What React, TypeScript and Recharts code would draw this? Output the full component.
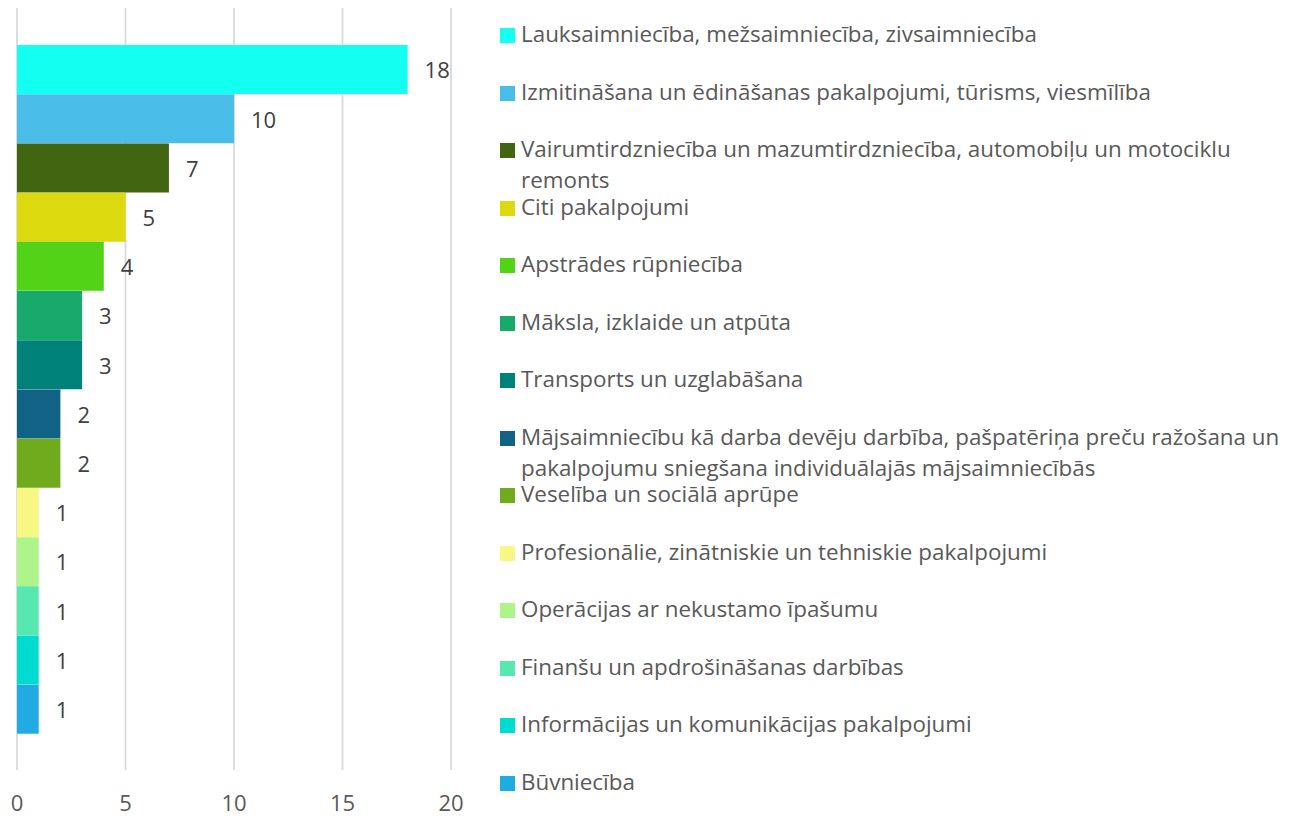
import { BarChart, Bar, XAxis, YAxis, CartesianGrid, Cell, LabelList } from 'recharts';

const categories = [
  'Lauksaimniecība, mežsaimniecība, zivsaimniecība',
  'Izmitināšana un ēdināšanas pakalpojumi, tūrisms, viesmīlība',
  'Vairumtirdzniecība un mazumtirdzniecība, automobiļu un motociklu remonts',
  'Citi pakalpojumi',
  'Apstrādes rūpniecība',
  'Māksla, izklaide un atpūta',
  'Transports un uzglabāšana',
  'Mājsaimniecību kā darba devēju darbība, pašpatēriņa preču ražošana un pakalpojumu sniegšana individuālajās mājsaimniecībās',
  'Veselība un sociālā aprūpe',
  'Profesionālie, zinātniskie un tehniskie pakalpojumi',
  'Operācijas ar nekustamo īpašumu',
  'Finanšu un apdrošināšanas darbības',
  'Informācijas un komunikācijas pakalpojumi',
  'Būvniecība',
];

const counts = [18, 10, 7, 5, 4, 3, 3, 2, 2, 1, 1, 1, 1, 1];

const colors = [
  '#13FFF1', '#4ABCE8', '#416510', '#DCD90F', '#52D318', '#18AA6C', '#00827A',
  '#106385', '#70AB1E', '#F9F784', '#AFF48A', '#57E8B0', '#00DBD0', '#20ABE3',
];

const xTicks = [0, 5, 10, 15, 20];

const data = categories.map((name, i) => ({ name, value: counts[i], color: colors[i] }));

const FONT = "'Segoe UI', 'Open Sans', 'Noto Sans', sans-serif";

// legend sits to the right of the plot, one row per category
const LegendList = () => (
  <div style={{ position: 'absolute', left: 500, top: 0, width: 790, height: 816, fontFamily: FONT }}>
    {data.map((d, i) => (
      <div
        key={d.name}
        style={{
          position: 'absolute',
          left: 0,
          top: 18 + i * 57.54,
          width: 785,
          display: 'flex',
          alignItems: 'flex-start',
        }}
      >
        <span
          style={{
            display: 'inline-block',
            width: 15,
            height: 15,
            marginTop: 10,
            marginRight: 6,
            background: d.color,
            flexShrink: 0,
          }}
        />
        <span style={{ fontSize: 22.4, lineHeight: '31px', color: '#595959' }}>{d.name}</span>
      </div>
    ))}
  </div>
);

export default function App() {
  return (
    <div style={{ position: 'absolute', left: 0, top: 0, width: 1296, height: 816, background: '#fff' }}>
      <BarChart
        width={480}
        height={816}
        data={data}
        layout="vertical"
        margin={{ top: 8, right: 29, bottom: 0, left: 17 }}
        barCategoryGap={0}
        style={{ fontFamily: FONT }}
      >
        <CartesianGrid horizontal={false} stroke="#d9d9d9" strokeWidth={1.8} />
        <XAxis
          type="number"
          domain={[0, 20]}
          ticks={xTicks}
          axisLine={false}
          tickLine={false}
          tickMargin={19}
          height={46}
          interval={0}
          tick={{ fill: '#595959', fontSize: 22 }}
        />
        <YAxis type="category" dataKey="name" hide padding={{ top: 37, bottom: 36 }} />
        <Bar dataKey="value" isAnimationActive={false}>
          {data.map((d) => (
            <Cell key={d.name} fill={d.color} />
          ))}
          <LabelList dataKey="value" position="right" offset={17} fill="#404040" fontSize={22} dy={1} />
        </Bar>
      </BarChart>
      <LegendList />
    </div>
  );
}
